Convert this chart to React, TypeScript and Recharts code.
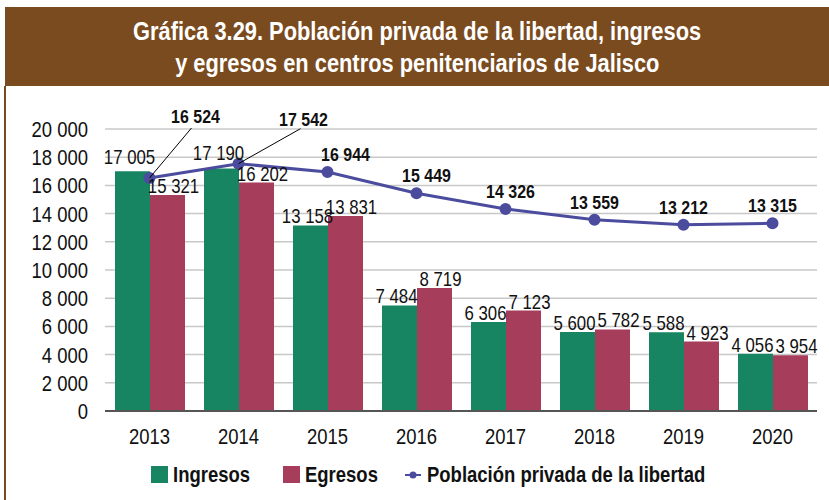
import { ComposedChart, Bar, Line, XAxis, YAxis, CartesianGrid, LabelList } from 'recharts';

const years = ['2013', '2014', '2015', '2016', '2017', '2018', '2019', '2020'];
const ingresos = [17005, 17190, 13158, 7484, 6306, 5600, 5588, 4056];
const egresos = [15321, 16202, 13831, 8719, 7123, 5782, 4923, 3954];
const poblacion = [16524, 17542, 16944, 15449, 14326, 13559, 13212, 13315];
const yTicks = [0, 2000, 4000, 6000, 8000, 10000, 12000, 14000, 16000, 18000, 20000];

const data = years.map((year, i) => ({
  year,
  ingresos: ingresos[i],
  egresos: egresos[i],
  poblacion: poblacion[i],
}));

const GREEN = '#178561';
const RED = '#a63d5a';
const BLUE = '#4b4c9d';
const BROWN = '#7a4b1f';
const FONT = '"Liberation Sans", Arial, sans-serif';
const SX = 0.84; // squeeze to mimic a condensed face

const fmt = (v: number) => String(v).replace(/\B(?=(\d{3})+(?!\d))/g, ' ');

const NText = ({ x, y, size, bold, anchor = 'middle', children }: any) => (
  <text
    transform={`translate(${x},${y}) scale(${SX},1)`}
    textAnchor={anchor}
    fontFamily={FONT}
    fontSize={size}
    fontWeight={bold ? 'bold' : 'normal'}
    fill="#111"
  >
    {children}
  </text>
);

const XTick = ({ x, y, payload }: any) => (
  <NText x={x} y={y + 25} size={22}>
    {payload.value}
  </NText>
);

const YTick = ({ x, y, payload }: any) => (
  <NText x={x} y={y + 8} size={22} anchor="end">
    {fmt(payload.value)}
  </NText>
);

// a couple of labels sit a little higher to clear the line
const greenLift: Record<number, number> = { 0: -7, 1: -9 };

const barLabel = (dx: number, dy: number, lift: Record<number, number> = {}) => (props: any) => {
  const { x, y, width, value, index } = props;
  return (
    <NText x={x + width / 2 + dx} y={y + (lift[index] ?? dy)} size={20}>
      {fmt(value)}
    </NText>
  );
};

// the first two points carry their labels up and to the right, with a leader line
const leader: Record<number, { lx: number; ly: number; dx: number; dy: number }> = {
  0: { lx: 42, ly: -50, dx: 46, dy: -55 },
  1: { lx: 62, ly: -35, dx: 65, dy: -38 },
};
const lineLabelShift: Record<number, number> = { 2: 18, 3: 10, 4: 5 };

const LineLabel = (props: any) => {
  const { x, y, value, index } = props;
  const l = leader[index];
  if (l) {
    return (
      <g>
        <line x1={x} y1={y} x2={x + l.lx} y2={y + l.ly} stroke="#000" strokeWidth={1} />
        <NText x={x + l.dx} y={y + l.dy} size={19} bold>
          {fmt(value)}
        </NText>
      </g>
    );
  }
  return (
    <NText x={x + (lineLabelShift[index] || 0)} y={y - 11} size={19} bold>
      {fmt(value)}
    </NText>
  );
};

const Squeeze = ({ children }: any) => (
  <span style={{ display: 'inline-block', transform: `scaleX(${SX})`, whiteSpace: 'nowrap' }}>{children}</span>
);

const Swatch = ({ color, left }: { color: string; left: number }) => (
  <span style={{ position: 'absolute', left, top: 4, width: 17, height: 17, background: color }} />
);

const LegendText = ({ left, children }: any) => (
  <span style={{ position: 'absolute', left, top: 0, transform: `scaleX(${SX})`, transformOrigin: '0 0', whiteSpace: 'nowrap' }}>
    {children}
  </span>
);

export default function App() {
  return (
    <div style={{ position: 'absolute', left: 0, top: 0, width: 829, height: 500, background: '#fff', fontFamily: FONT }}>
      <div
        style={{
          position: 'absolute',
          left: 5,
          top: 7,
          width: 824,
          height: 79,
          background: BROWN,
          color: '#fff',
          fontWeight: 'bold',
          fontSize: 26,
          lineHeight: '32px',
          textAlign: 'center',
          paddingTop: 8,
          boxSizing: 'border-box',
        }}
      >
        <Squeeze>Gráfica 3.29. Población privada de la libertad, ingresos</Squeeze>
        <br />
        <Squeeze>y egresos en centros penitenciarios de Jalisco</Squeeze>
      </div>
      <div style={{ position: 'absolute', left: 4, top: 86, width: 2, height: 414, background: BROWN }} />
      <div style={{ position: 'absolute', left: 0, top: 0 }}>
        <ComposedChart
          width={829}
          height={500}
          data={data}
          margin={{ top: 129, right: 12, bottom: 49, left: 0 }}
          barGap={0}
        >
          <CartesianGrid vertical={false} stroke="#c8c8c8" strokeWidth={1.5} />
          <XAxis
            dataKey="year"
            height={40}
            tickLine={false}
            axisLine={{ stroke: '#555', strokeWidth: 2 }}
            tick={<XTick />}
          />
          <YAxis
            width={105}
            domain={[0, 20000]}
            ticks={yTicks}
            interval={0}
            axisLine={false}
            tickLine={false}
            tick={<YTick />}
            tickMargin={11}
          />
          <Bar dataKey="ingresos" fill={GREEN} barSize={35} isAnimationActive={false}>
            <LabelList dataKey="ingresos" content={barLabel(-3, -2, greenLift)} />
          </Bar>
          <Bar dataKey="egresos" fill={RED} barSize={35} isAnimationActive={false}>
            <LabelList dataKey="egresos" content={barLabel(6, -2)} />
          </Bar>
          <Line
            dataKey="poblacion"
            stroke={BLUE}
            strokeWidth={3}
            dot={{ r: 4.5, fill: BLUE, stroke: BLUE }}
            isAnimationActive={false}
          >
            <LabelList dataKey="poblacion" content={LineLabel} />
          </Line>
        </ComposedChart>
      </div>
      <div
        style={{
          position: 'absolute',
          left: 0,
          top: 462,
          width: 829,
          height: 26,
          fontSize: 22,
          fontWeight: 'bold',
          color: '#111',
        }}
      >
        <Swatch color={GREEN} left={151} />
        <LegendText left={173}>Ingresos</LegendText>
        <Swatch color={RED} left={283} />
        <LegendText left={305}>Egresos</LegendText>
        <svg width={16} height={10} style={{ position: 'absolute', left: 405, top: 8 }}>
          <line x1={0} y1={5} x2={16} y2={5} stroke={BLUE} strokeWidth={2} />
          <circle cx={8} cy={5} r={3.5} fill={BLUE} />
        </svg>
        <LegendText left={427}>Población privada de la libertad</LegendText>
      </div>
    </div>
  );
}
